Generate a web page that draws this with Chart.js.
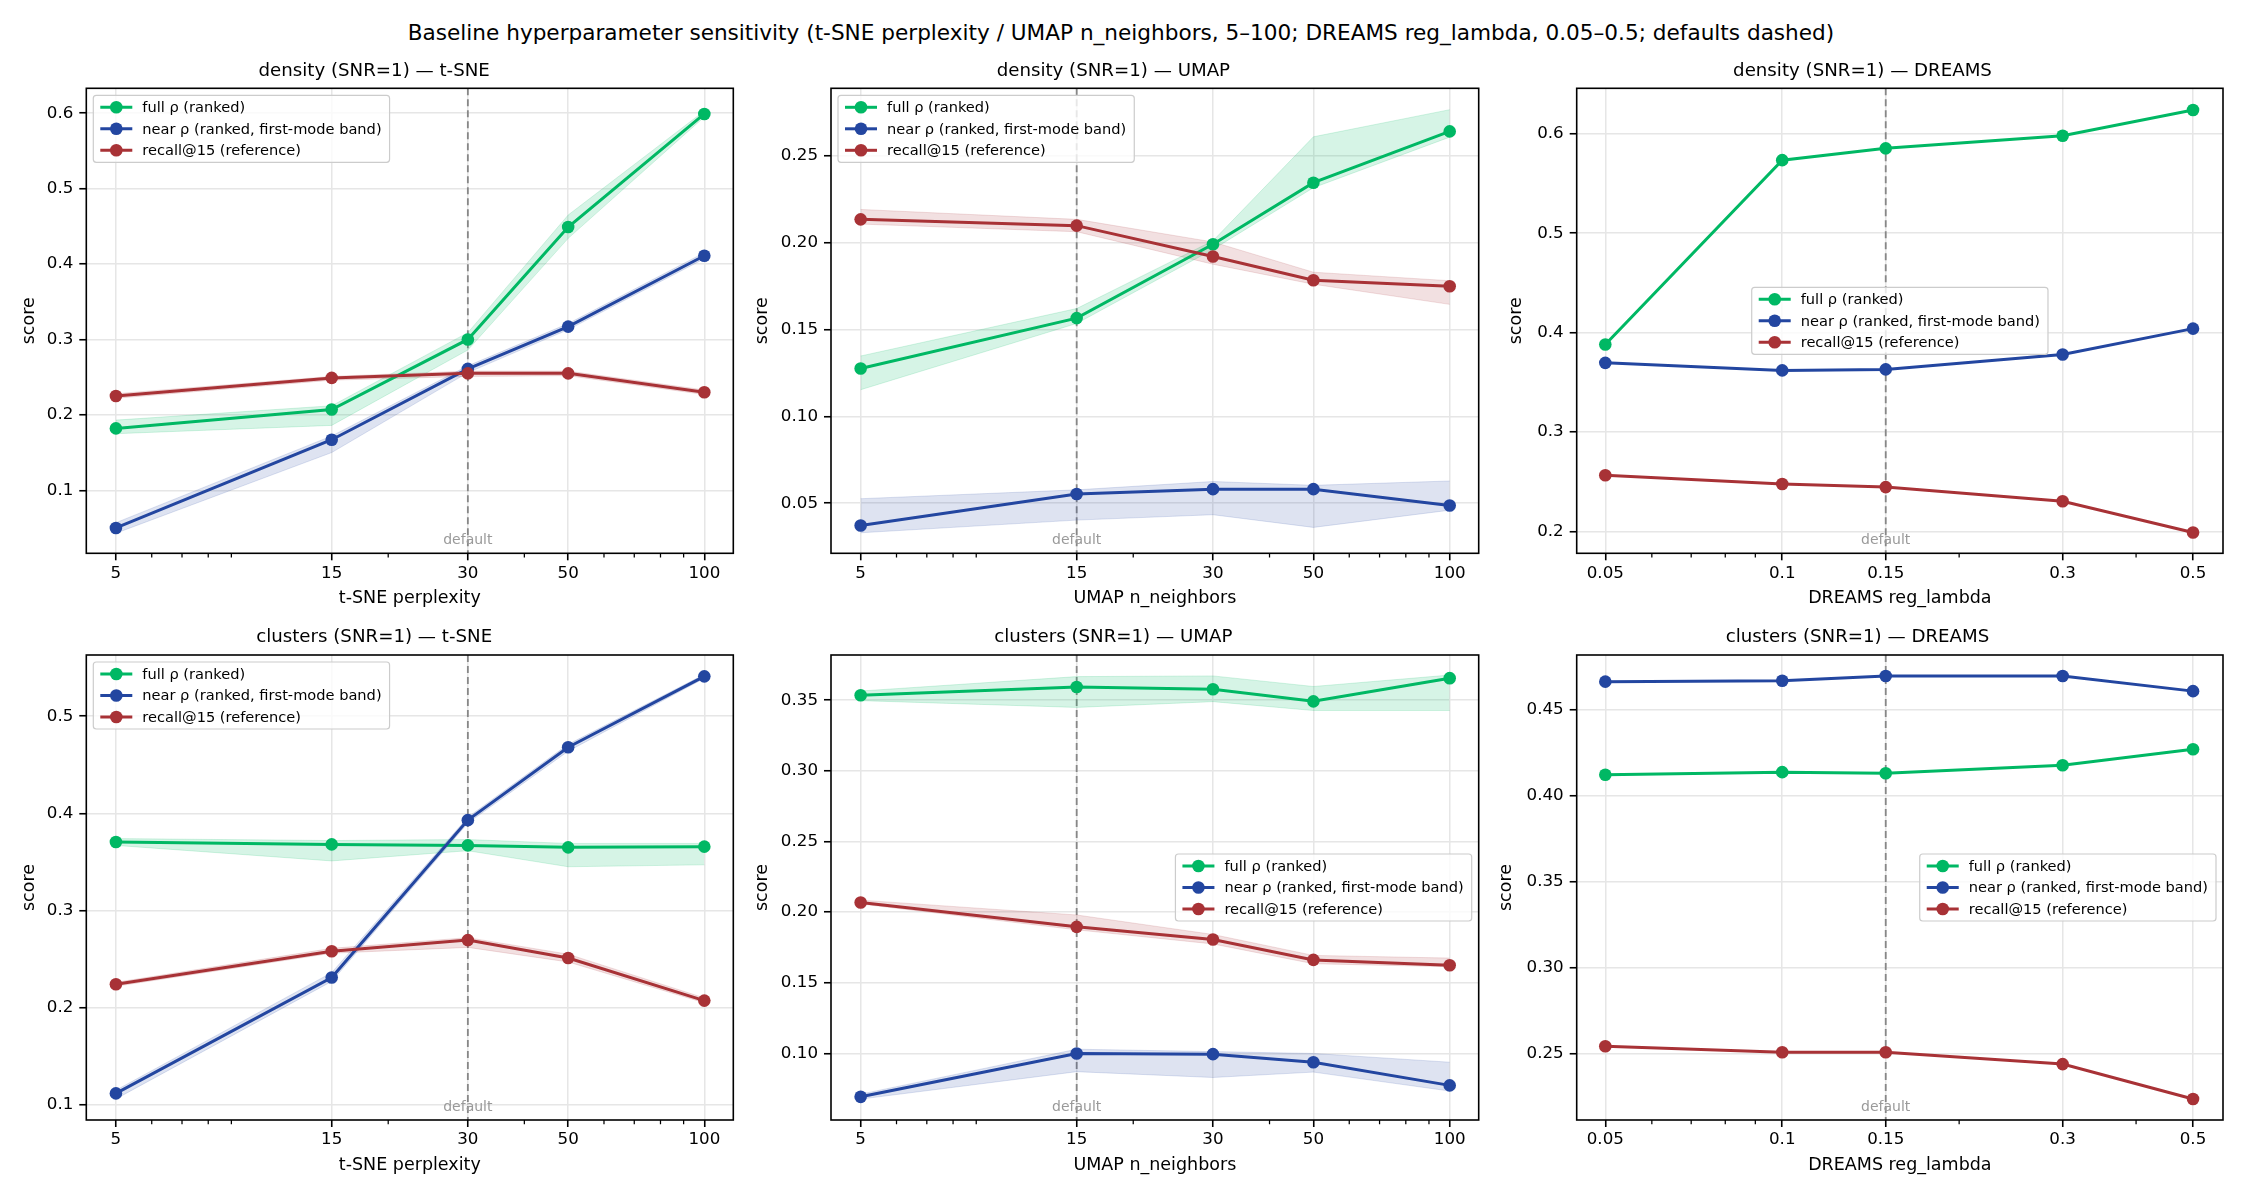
<!DOCTYPE html>
<html>
<head>
<meta charset="utf-8">
<script src="https://cdn.jsdelivr.net/npm/chart.js@4.4.1/dist/chart.umd.min.js"></script>
<style>
  body { margin: 0; background: #fff; }
  #fig { position: relative; width: 2242px; height: 1196px; background: #fff; overflow: hidden; }
  #suptitle { position: absolute; left: 0; top: 20px; width: 2242px; text-align: center;
              font-family: 'DejaVu Sans', sans-serif; font-size: 21.6px; line-height: 25px; color: #000; }
  canvas { position: absolute; }
</style>
</head>
<body>
<div id="fig">
  <div id="suptitle">Baseline hyperparameter sensitivity (t-SNE perplexity / UMAP n_neighbors, 5–100; DREAMS reg_lambda, 0.05–0.5; defaults dashed)</div>
</div>
<script>
// x values (log axes)
const xNeighbors = [5, 15, 30, 50, 100];          // t-SNE perplexity / UMAP n_neighbors
const xLambda = [0.05, 0.1, 0.15, 0.3, 0.5];      // DREAMS reg_lambda
const xTickLabelsN = ['5', '15', '30', '50', '100'];
const xTickLabelsL = ['0.05', '0.1', '0.15', '0.3', '0.5'];
const minorTicksN = [6, 7, 8, 9, 20, 40, 60, 70, 80, 90];
const minorTicksL = [0.06, 0.07, 0.08, 0.09, 0.2, 0.4];
const xLimN = [4.30, 115.9];
const xLimL = [0.0447, 0.5623];

// density (SNR=1) — t-SNE
const densTsneFull = [0.182, 0.207, 0.300, 0.449, 0.599];
const densTsneFullLo = [0.175, 0.186, 0.286, 0.434, 0.595];
const densTsneFullHi = [0.193, 0.212, 0.309, 0.465, 0.603];
const densTsneNear = [0.050, 0.167, 0.261, 0.317, 0.411];
const densTsneNearLo = [0.043, 0.150, 0.256, 0.313, 0.407];
const densTsneNearHi = [0.057, 0.172, 0.265, 0.321, 0.415];
const densTsneRecall = [0.225, 0.249, 0.255, 0.255, 0.230];
const densTsneRecallLo = [0.222, 0.246, 0.251, 0.252, 0.227];
const densTsneRecallHi = [0.228, 0.251, 0.258, 0.258, 0.233];

// density (SNR=1) — UMAP
const densUmapFull = [0.1275, 0.1565, 0.199, 0.2344, 0.2639];
const densUmapFullLo = [0.1153, 0.1534, 0.196, 0.2315, 0.2606];
const densUmapFullHi = [0.1347, 0.162, 0.201, 0.2608, 0.2764];
const densUmapNear = [0.0372, 0.0553, 0.0581, 0.0581, 0.0487];
const densUmapNearLo = [0.033, 0.0403, 0.0434, 0.0361, 0.046];
const densUmapNearHi = [0.0526, 0.0577, 0.0625, 0.0603, 0.0628];
const densUmapRecall = [0.2133, 0.2097, 0.1919, 0.1783, 0.1748];
const densUmapRecallLo = [0.2106, 0.2062, 0.1875, 0.176, 0.1644];
const densUmapRecallHi = [0.219, 0.2133, 0.2003, 0.1829, 0.178];

// density (SNR=1) — DREAMS
const densDreamsFull = [0.388, 0.5735, 0.5854, 0.598, 0.624];
const densDreamsNear = [0.3696, 0.362, 0.363, 0.378, 0.404];
const densDreamsRecall = [0.2565, 0.2477, 0.2446, 0.2304, 0.199];

// clusters (SNR=1) — t-SNE
const clusTsneFull = [0.3705, 0.368, 0.367, 0.365, 0.3657];
const clusTsneFullLo = [0.367, 0.351, 0.3615, 0.345, 0.347];
const clusTsneFullHi = [0.374, 0.372, 0.373, 0.369, 0.369];
const clusTsneNear = [0.1117, 0.231, 0.393, 0.468, 0.541];
const clusTsneNearLo = [0.106, 0.227, 0.390, 0.464, 0.539];
const clusTsneNearHi = [0.115, 0.236, 0.396, 0.471, 0.543];
const clusTsneRecall = [0.224, 0.258, 0.2695, 0.251, 0.2072];
const clusTsneRecallLo = [0.222, 0.256, 0.262, 0.247, 0.205];
const clusTsneRecallHi = [0.226, 0.261, 0.272, 0.255, 0.210];

// clusters (SNR=1) — UMAP
const clusUmapFull = [0.3535, 0.3594, 0.3578, 0.3492, 0.3656];
const clusUmapFullLo = [0.3497, 0.3449, 0.349, 0.3427, 0.3427];
const clusUmapFullHi = [0.3565, 0.3667, 0.3672, 0.3597, 0.3678];
const clusUmapNear = [0.0693, 0.100, 0.0995, 0.0938, 0.0774];
const clusUmapNearLo = [0.0677, 0.0871, 0.083, 0.0868, 0.0734];
const clusUmapNearHi = [0.0712, 0.103, 0.1013, 0.100, 0.0938];
const clusUmapRecall = [0.2068, 0.1896, 0.1807, 0.1662, 0.1624];
const clusUmapRecallLo = [0.2058, 0.1875, 0.1775, 0.1635, 0.1614];
const clusUmapRecallHi = [0.2085, 0.198, 0.1842, 0.1694, 0.1675];

// clusters (SNR=1) — DREAMS
const clusDreamsFull = [0.412, 0.4135, 0.4129, 0.4175, 0.4268];
const clusDreamsNear = [0.4661, 0.4666, 0.4694, 0.4694, 0.4606];
const clusDreamsRecall = [0.2542, 0.2507, 0.2507, 0.2438, 0.2235];

// y limits and ticks
const yLimDensTsne = [0.0164, 0.633];
const yLimDensUmap = [0.0212, 0.2887];
const yLimDensDreams = [0.178, 0.6458];
const yLimClusTsne = [0.0843, 0.563];
const yLimClusUmap = [0.0529, 0.382];
const yLimClusDreams = [0.2113, 0.4816];
const yTicksDensTsne = [0.1, 0.2, 0.3, 0.4, 0.5, 0.6];
const yTickLabelsDensTsne = ['0.1', '0.2', '0.3', '0.4', '0.5', '0.6'];
const yTicksDensUmap = [0.05, 0.10, 0.15, 0.20, 0.25];
const yTickLabelsDensUmap = ['0.05', '0.10', '0.15', '0.20', '0.25'];
const yTicksDensDreams = [0.2, 0.3, 0.4, 0.5, 0.6];
const yTickLabelsDensDreams = ['0.2', '0.3', '0.4', '0.5', '0.6'];
const yTicksClusTsne = [0.1, 0.2, 0.3, 0.4, 0.5];
const yTickLabelsClusTsne = ['0.1', '0.2', '0.3', '0.4', '0.5'];
const yTicksClusUmap = [0.10, 0.15, 0.20, 0.25, 0.30, 0.35];
const yTickLabelsClusUmap = ['0.10', '0.15', '0.20', '0.25', '0.30', '0.35'];
const yTicksClusDreams = [0.25, 0.30, 0.35, 0.40, 0.45];
const yTickLabelsClusDreams = ['0.25', '0.30', '0.35', '0.40', '0.45'];

const COLORS = { full: '#00b864', near: '#2346a0', recall: '#a83236' };
const BANDS = { full: 'rgba(0,184,100,0.16)', near: 'rgba(35,70,160,0.15)', recall: 'rgba(168,50,54,0.15)' };
const LABELS = { full: 'full ρ (ranked)', near: 'near ρ (ranked, first-mode band)', recall: 'recall@15 (reference)' };

const panels = [
  { row: 0, col: 0, title: 'density (SNR=1) — t-SNE', xLabel: 't-SNE perplexity', dreams: false, defaultX: 30,
    yLim: yLimDensTsne, yTicks: yTicksDensTsne, yTickLabels: yTickLabelsDensTsne, legend: 'upper left', yGap: 57,
    series: [['full', densTsneFull, densTsneFullLo, densTsneFullHi], ['near', densTsneNear, densTsneNearLo, densTsneNearHi], ['recall', densTsneRecall, densTsneRecallLo, densTsneRecallHi]] },
  { row: 0, col: 1, title: 'density (SNR=1) — UMAP', xLabel: 'UMAP n_neighbors', dreams: false, defaultX: 15,
    yLim: yLimDensUmap, yTicks: yTicksDensUmap, yTickLabels: yTickLabelsDensUmap, legend: 'upper left', yGap: 69,
    series: [['full', densUmapFull, densUmapFullLo, densUmapFullHi], ['near', densUmapNear, densUmapNearLo, densUmapNearHi], ['recall', densUmapRecall, densUmapRecallLo, densUmapRecallHi]] },
  { row: 0, col: 2, title: 'density (SNR=1) — DREAMS', xLabel: 'DREAMS reg_lambda', dreams: true, defaultX: 0.15,
    yLim: yLimDensDreams, yTicks: yTicksDensDreams, yTickLabels: yTickLabelsDensDreams, legend: 'center', yGap: 60,
    series: [['full', densDreamsFull], ['near', densDreamsNear], ['recall', densDreamsRecall]] },
  { row: 1, col: 0, title: 'clusters (SNR=1) — t-SNE', xLabel: 't-SNE perplexity', dreams: false, defaultX: 30,
    yLim: yLimClusTsne, yTicks: yTicksClusTsne, yTickLabels: yTickLabelsClusTsne, legend: 'upper left', yGap: 57,
    series: [['full', clusTsneFull, clusTsneFullLo, clusTsneFullHi], ['near', clusTsneNear, clusTsneNearLo, clusTsneNearHi], ['recall', clusTsneRecall, clusTsneRecallLo, clusTsneRecallHi]] },
  { row: 1, col: 1, title: 'clusters (SNR=1) — UMAP', xLabel: 'UMAP n_neighbors', dreams: false, defaultX: 15,
    yLim: yLimClusUmap, yTicks: yTicksClusUmap, yTickLabels: yTickLabelsClusUmap, legend: 'center right', yGap: 69,
    series: [['full', clusUmapFull, clusUmapFullLo, clusUmapFullHi], ['near', clusUmapNear, clusUmapNearLo, clusUmapNearHi], ['recall', clusUmapRecall, clusUmapRecallLo, clusUmapRecallHi]] },
  { row: 1, col: 2, title: 'clusters (SNR=1) — DREAMS', xLabel: 'DREAMS reg_lambda', dreams: true, defaultX: 0.15,
    yLim: yLimClusDreams, yTicks: yTicksClusDreams, yTickLabels: yTickLabelsClusDreams, legend: 'center right', yGap: 70,
    series: [['full', clusDreamsFull], ['near', clusDreamsNear], ['recall', clusDreamsRecall]] },
];

// plot-area edges in page pixels
const rowEdges = [[88.3, 553.3], [655, 1120]];
const colEdges = [[86.3, 733.3], [831, 1478.7], [1576.7, 2223]];

Chart.defaults.font.family = "'DejaVu Sans', sans-serif";
Chart.defaults.color = '#000';

// dashed default line, spines, minor ticks
const axesDecor = {
  id: 'axesDecor',
  beforeDatasetsDraw(chart, args, o) {
    const { ctx, chartArea: a } = chart;
    const px = chart.scales.x.getPixelForValue(o.defaultX);
    ctx.save();
    ctx.strokeStyle = '#878787';
    ctx.lineWidth = 1.8;
    ctx.setLineDash([7, 4]);
    ctx.beginPath();
    ctx.moveTo(px, a.top);
    ctx.lineTo(px, a.bottom);
    ctx.stroke();
    ctx.restore();
  },
  afterDatasetsDraw(chart, args, o) {
    const { ctx, chartArea: a } = chart;
    const xs = chart.scales.x;
    ctx.save();
    ctx.fillStyle = '#9a9a9a';
    ctx.font = "14px 'DejaVu Sans'";
    ctx.textAlign = 'center';
    ctx.textBaseline = 'alphabetic';
    ctx.fillText('default', xs.getPixelForValue(o.defaultX), a.bottom - 9);
    ctx.strokeStyle = '#000';
    ctx.lineWidth = 1.6;
    ctx.strokeRect(a.left, a.top, a.right - a.left, a.bottom - a.top);
    ctx.lineWidth = 1.25;
    ctx.beginPath();
    o.minor.forEach(v => {
      const px = xs.getPixelForValue(v);
      if (px < a.left || px > a.right) return;
      ctx.moveTo(px, a.bottom);
      ctx.lineTo(px, a.bottom + 4.2);
    });
    ctx.stroke();
    ctx.restore();
  }
};

// matplotlib-like framed legend inside the axes
const boxLegend = {
  id: 'boxLegend',
  afterDraw(chart, args, o) {
    const { ctx, chartArea: a } = chart;
    const items = chart.data.datasets.filter(d => d.showInLegend);
    ctx.save();
    ctx.font = "14.6px 'DejaVu Sans'";
    const tw = Math.max(...items.map(d => ctx.measureText(d.label).width));
    const w = 7 + 32 + 10 + tw + 8;
    const h = 24 + 21.5 * (items.length - 1);
    let x, y;
    if (o.loc === 'upper left') { x = a.left + 7; y = a.top + 7; }
    else if (o.loc === 'center') { x = (a.left + a.right - w) / 2; y = (a.top + a.bottom - h) / 2; }
    else { x = a.right - 7 - w; y = (a.top + a.bottom - h) / 2; }
    ctx.beginPath();
    ctx.roundRect(x, y, w, h, 3);
    ctx.fillStyle = 'rgba(255,255,255,0.8)';
    ctx.fill();
    ctx.strokeStyle = '#cccccc';
    ctx.lineWidth = 1.2;
    ctx.stroke();
    items.forEach((d, i) => {
      const cy = y + 12 + i * 21.5;
      ctx.strokeStyle = d.borderColor;
      ctx.lineWidth = 3;
      ctx.beginPath();
      ctx.moveTo(x + 7, cy);
      ctx.lineTo(x + 39, cy);
      ctx.stroke();
      ctx.fillStyle = d.borderColor;
      ctx.beginPath();
      ctx.arc(x + 23, cy, 6.3, 0, Math.PI * 2);
      ctx.fill();
      ctx.fillStyle = '#000';
      ctx.textAlign = 'left';
      ctx.textBaseline = 'middle';
      ctx.fillText(d.label, x + 49, cy + 1);
    });
    ctx.restore();
  }
};

Chart.register(axesDecor, boxLegend);

function buildDatasets(p, xs) {
  const ds = [];
  p.series.forEach(([key, mid, lo, hi], k) => {
    if (!lo || !hi) return;
    ds.push({ data: xs.map((x, i) => ({ x: x, y: hi[i] })), borderColor: BANDS[key], backgroundColor: BANDS[key],
              borderWidth: 1, pointRadius: 0, fill: '+1', order: 10 + k, tension: 0 });
    ds.push({ data: xs.map((x, i) => ({ x: x, y: lo[i] })), borderColor: BANDS[key], backgroundColor: BANDS[key],
              borderWidth: 1, pointRadius: 0, fill: false, order: 10 + k, tension: 0 });
  });
  p.series.forEach(([key, mid], k) => {
    ds.push({ label: LABELS[key], showInLegend: true, data: xs.map((x, i) => ({ x: x, y: mid[i] })),
              borderColor: COLORS[key], backgroundColor: COLORS[key], borderWidth: 3,
              pointRadius: 6.3, pointHoverRadius: 6.3, pointBorderWidth: 0, fill: false, order: 3 - k, tension: 0 });
  });
  return ds;
}

const fig = document.getElementById('fig');
panels.forEach(p => {
  const [pt, pb] = rowEdges[p.row];
  const [pl, pr] = colEdges[p.col];
  const xs = p.dreams ? xLambda : xNeighbors;
  const xTicks = xs;
  const xTickLabels = p.dreams ? xTickLabelsL : xTickLabelsN;
  const xLim = p.dreams ? xLimL : xLimN;
  const minor = p.dreams ? minorTicksL : minorTicksN;

  const cl = Math.floor(pl - (p.yGap + 14));
  const L = pl - cl;
  const ct = Math.floor(pt - 40);
  const titleH = 4 + 18.2 * 1.2 + 6.6;
  const padTop = (pt - ct) - titleH;
  const cw = Math.ceil(pr + 30) - cl;
  const padRight = cl + cw - pr;
  const ch = Math.ceil(pb + 70) - ct;
  const B = ct + ch - pb;

  const cv = document.createElement('canvas');
  cv.width = cw; cv.height = ch;
  cv.style.left = cl + 'px'; cv.style.top = ct + 'px';
  cv.style.width = cw + 'px'; cv.style.height = ch + 'px';
  fig.appendChild(cv);

  new Chart(cv.getContext('2d'), {
    type: 'line',
    data: { datasets: buildDatasets(p, xs) },
    options: {
      responsive: false,
      animation: false,
      devicePixelRatio: 1,
      layout: { padding: { top: padTop, right: padRight, left: 0, bottom: 0 } },
      plugins: {
        legend: { display: false },
        tooltip: { enabled: false },
        title: { display: true, text: p.title, color: '#000', font: { size: 18.2, weight: 'normal', lineHeight: 1.2 },
                 padding: { top: 4, bottom: 6.6 } },
        axesDecor: { defaultX: p.defaultX, minor: minor },
        boxLegend: { loc: p.legend },
      },
      scales: {
        x: {
          type: 'logarithmic', min: xLim[0], max: xLim[1],
          afterFit(s) { s.height = B; s.paddingLeft = 0; s.paddingRight = 0; },
          afterBuildTicks(s) { s.ticks = xTicks.map(v => ({ value: v })); },
          ticks: { autoSkip: false, maxRotation: 0, minRotation: 0, padding: 3, color: '#000', font: { size: 16.7 },
                   callback: (v, i) => xTickLabels[i] },
          grid: { color: '#e6e6e6', lineWidth: 1.5, tickColor: '#000', tickLength: 7, tickWidth: 1.6 },
          border: { display: false },
          title: { display: true, text: p.xLabel, color: '#000', font: { size: 17.5 }, padding: { top: 0, bottom: B - 45 - 10.5 } },
        },
        y: {
          type: 'linear', min: p.yLim[0], max: p.yLim[1],
          afterFit(s) { s.width = L; s.paddingTop = 0; s.paddingBottom = 0; },
          afterBuildTicks(s) { s.ticks = p.yTicks.map(v => ({ value: v })); },
          ticks: { autoSkip: false, padding: 6, color: '#000', font: { size: 16.7 },
                   callback: (v, i) => p.yTickLabels[i] },
          grid: { color: '#e6e6e6', lineWidth: 1.5, tickColor: '#000', tickLength: 7, tickWidth: 1.6 },
          border: { display: false },
          title: { display: true, text: 'score', color: '#000', font: { size: 17.5 }, padding: { top: L - p.yGap - 10.5, bottom: 0 } },
        },
      },
    },
  });
});
</script>
</body>
</html>
